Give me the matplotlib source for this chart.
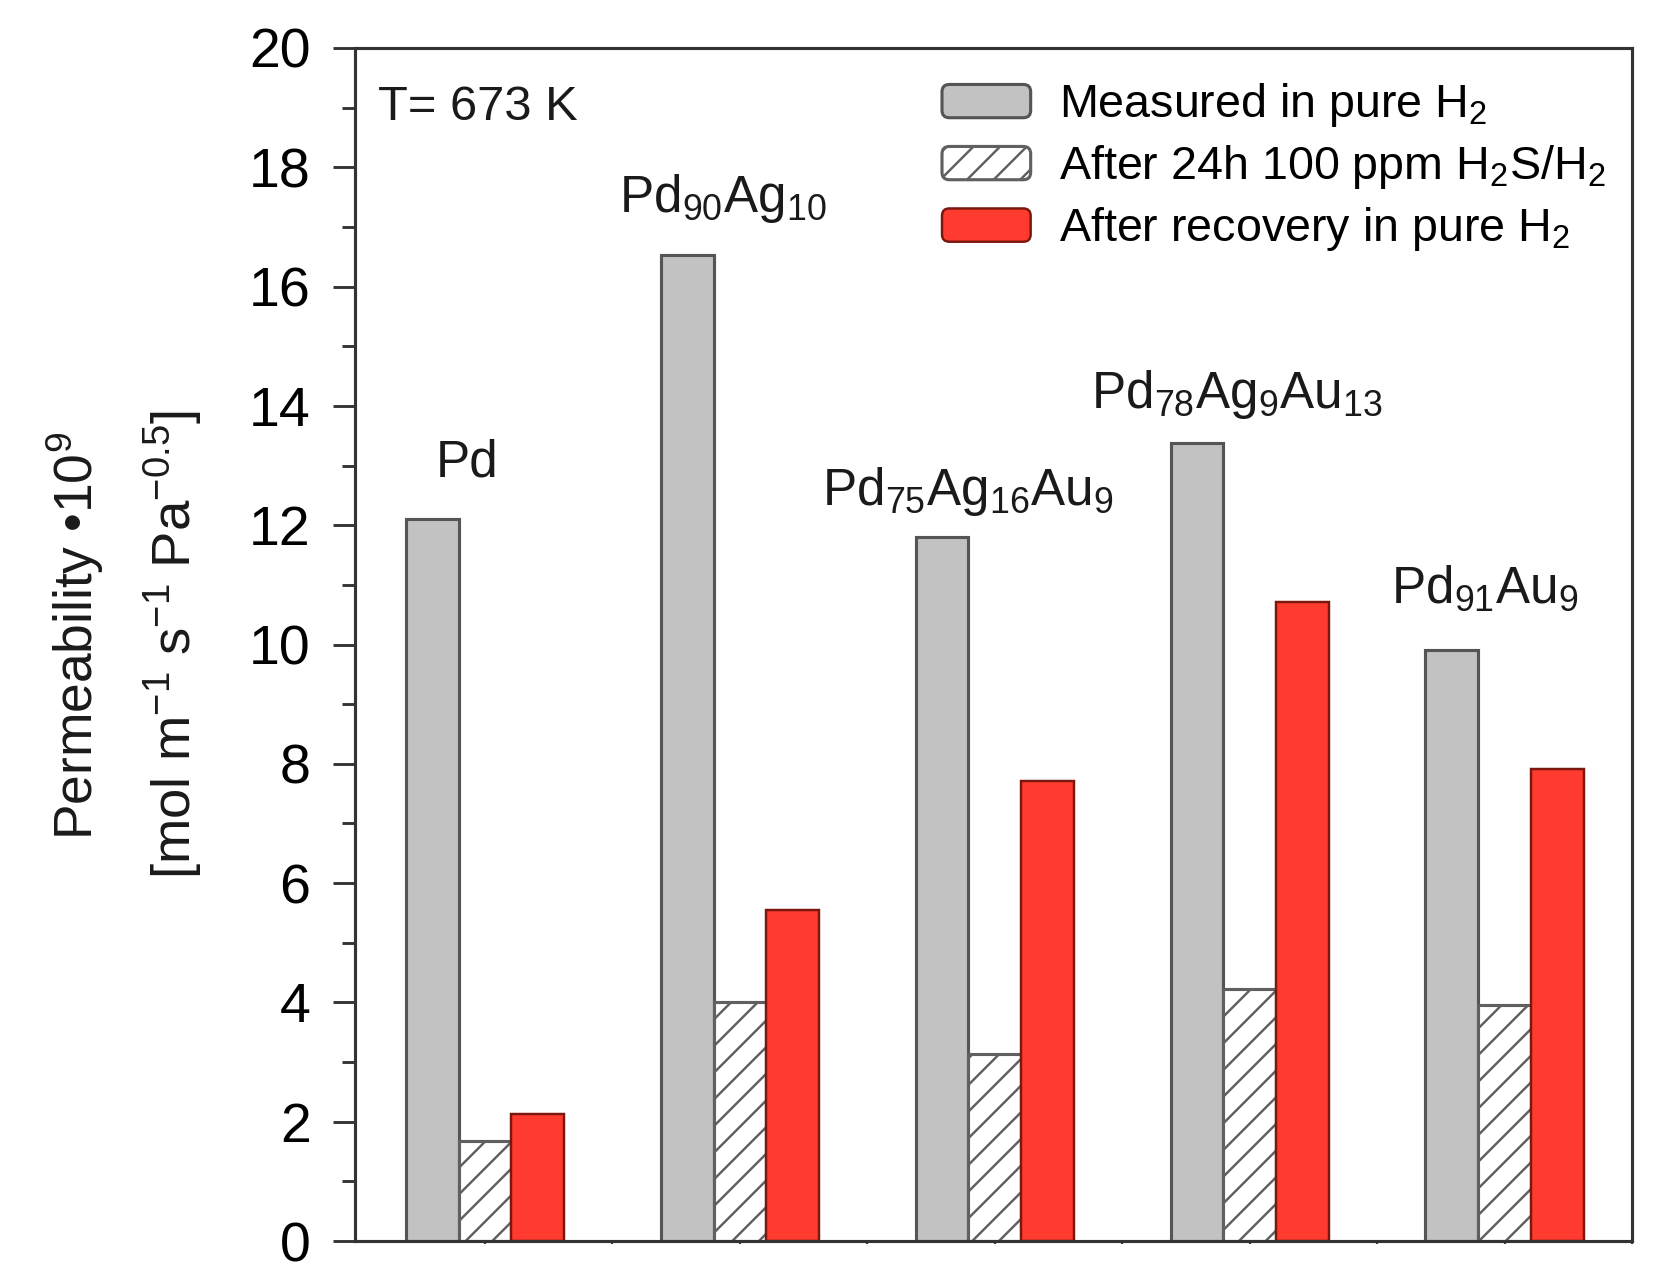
import matplotlib
matplotlib.use("Agg")
import matplotlib.pyplot as plt
import numpy as np
from matplotlib.legend_handler import HandlerPatch
from matplotlib.patches import FancyBboxPatch, Rectangle

plt.rcParams['font.family'] = ['Liberation Sans', 'DejaVu Sans']
plt.rcParams['mathtext.fontset'] = 'custom'
plt.rcParams['mathtext.rm'] = 'Liberation Sans'
plt.rcParams['mathtext.it'] = 'Liberation Sans:italic'
plt.rcParams['mathtext.bf'] = 'Liberation Sans:bold'
plt.rcParams['hatch.linewidth'] = 1.1

# ---- data ----
alloys = ["Pd", "Pd$_{90}$Ag$_{10}$", "Pd$_{75}$Ag$_{16}$Au$_{9}$",
          "Pd$_{78}$Ag$_{9}$Au$_{13}$", "Pd$_{91}$Au$_{9}$"]
measured_pure_h2 = [12.1, 16.53, 11.8, 13.38, 9.91]
after_h2s = [1.68, 4.01, 3.14, 4.22, 3.95]
after_recovery = [2.13, 5.55, 7.71, 10.71, 7.91]
series_labels = ["Measured in pure H$_2$",
                 "After 24h 100 ppm H$_2$S/H$_2$",
                 "After recovery in pure H$_2$"]
yticks = [0, 2, 4, 6, 8, 10, 12, 14, 16, 18, 20]

# label placement (offset from group centre, y baseline)
label_dx = [-0.071, -0.065, -0.106, -0.049, -0.078]
label_y = [12.81, 17.25, 12.34, 13.96, 10.71]

W, H, DPI = 1656, 1274, 160
fig = plt.figure(figsize=(W / DPI, H / DPI), dpi=DPI)
ax = fig.add_axes([355 / W, 1 - 1241 / H, (1632 - 355) / W, (1241 - 48) / H])

x = np.arange(len(alloys))
bw = 0.207
gray_c, gray_e = '#c2c2c2', '#555555'
red_c, red_e = '#ff3a2e', '#7a1810'

b1 = ax.bar(x - bw, measured_pure_h2, bw, color=gray_c, edgecolor=gray_e,
            linewidth=1.4, label=series_labels[0], zorder=2)
b2 = ax.bar(x, after_h2s, bw, color='white', edgecolor='#606060', hatch='//',
            linewidth=1.4, label=series_labels[1], zorder=2)
b3 = ax.bar(x + bw, after_recovery, bw, color=red_c, edgecolor=red_e,
            linewidth=1.1, label=series_labels[2], zorder=2)

ax.set_xlim(-0.51, 4.49)
ax.set_ylim(0, 20)
ax.set_yticks(yticks)
ax.set_yticks(np.arange(1, 20, 2), minor=True)
ax.set_xticks(x)
ax.set_xticks(x + 0.5, minor=True)
ax.set_xticklabels([])
ax.tick_params(axis='y', which='major', length=10, width=1.3, pad=10,
               labelsize=25, direction='out', color='#333333')
ax.tick_params(axis='y', which='minor', length=6, width=1.3,
               direction='out', color='#333333')
ax.tick_params(axis='x', which='both', length=1.5, width=1.0,
               direction='out', color='#333333')
for s in ax.spines.values():
    s.set_linewidth(1.4)
    s.set_color('#333333')

for i, lab in enumerate(alloys):
    ax.text(x[i] + label_dx[i], label_y[i], lab, ha='center', va='baseline',
            fontsize=23, color='#1a1a1a')

ax.text(0.018, 0.9397, "T= 673 K", transform=ax.transAxes, ha='left',
        va='baseline', fontsize=22, color='#1a1a1a')


def rounded(legend, orig_handle, xdescent, ydescent, width, height, fontsize):
    return FancyBboxPatch((-xdescent, -ydescent), width, height,
                          boxstyle="round,pad=0,rounding_size=%f" % (height * 0.22))


handles = [b1.patches[0], b2.patches[0], b3.patches[0]]
leg = ax.legend(handles, series_labels, loc='upper left',
                bbox_to_anchor=((942 - 355) / 1277, 0.972),
                frameon=False, fontsize=21, handlelength=1.9,
                handleheight=0.72, handletextpad=0.6, labelspacing=0.30,
                borderpad=0, borderaxespad=0,
                handler_map={Rectangle: HandlerPatch(patch_func=rounded)})

fig.text(75 / W, 1 - 636 / H, "Permeability •10$^{9}$", rotation=90,
         ha='center', va='center', fontsize=24, color='#1a1a1a')
fig.text(173 / W, 1 - 645 / H, "[mol m$^{-1}$ s$^{-1}$ Pa$^{-0.5}$]",
         rotation=90, ha='center', va='center', fontsize=24.5, color='#1a1a1a')

fig.savefig("out.png", dpi=DPI)
